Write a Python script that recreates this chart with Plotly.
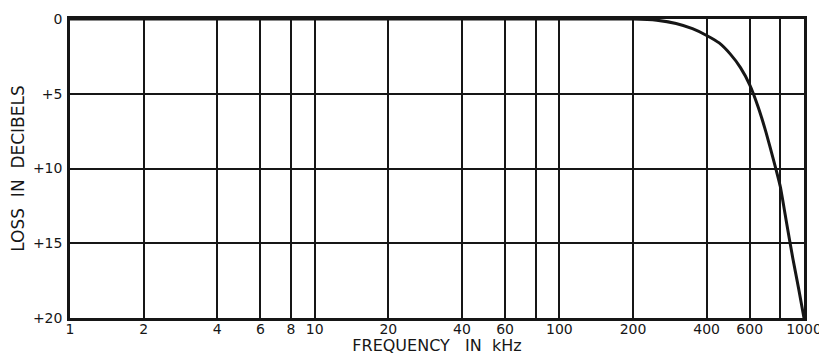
import plotly.graph_objects as go

freq_khz = [1, 10, 100, 200, 250, 300, 350, 400, 450, 500, 550, 600, 650, 700, 750, 800, 850, 900, 950, 1000]
loss_db = [0, 0, 0, 0, 0.08, 0.3, 0.65, 1.1, 1.6, 2.35, 3.25, 4.4, 5.9, 7.6, 9.4, 11.2, 13.7, 16.0, 18.0, 20]

grid_vals = [1, 2, 4, 6, 8, 10, 20, 40, 60, 80, 100, 200, 400, 600, 800, 1000]
grid_text = ['1', '2', '4', '6', '8', '10', '20', '40', '60', '', '100', '200', '400', '600', '', '1000']

y_vals = [0, 5, 10, 15, 20]
y_text = ['0', '+5', '+10', '+15', '+20']

ink = '#161616'
fam = 'DejaVu Sans, Liberation Sans, sans-serif'
tick_font = dict(family=fam, size=14, color=ink)
nb = '&nbsp;'

fig = go.Figure()
fig.add_trace(go.Scatter(x=freq_khz, y=loss_db, mode='lines',
                         line=dict(color=ink, width=3, shape='spline', smoothing=0.5),
                         hoverinfo='skip', showlegend=False))

fig.update_xaxes(type='log', range=[0, 3], tickvals=grid_vals, ticktext=grid_text,
                 showgrid=True, gridcolor=ink, gridwidth=1.8,
                 showline=True, linecolor=ink, linewidth=2.5, mirror=True,
                 ticks='', zeroline=False, tickfont=tick_font, automargin=False,
                 ticklabelstandoff=-4,
                 title=dict(text='FREQUENCY' + nb * 3 + 'IN' + nb * 2 + 'kHz',
                            font=dict(family=fam, size=16, color=ink), standoff=11))
fig.update_yaxes(range=[20, 0], tickvals=y_vals, ticktext=y_text,
                 showgrid=True, gridcolor=ink, gridwidth=1.8,
                 showline=True, linecolor=ink, linewidth=2.5, mirror=True,
                 ticks='', zeroline=False, tickfont=tick_font, automargin=False,
                 ticklabelstandoff=2,
                 title=dict(text='LOSS' + nb * 2 + 'IN' + nb * 2 + 'DECIBELS',
                            font=dict(family=fam, size=17, color=ink), standoff=4))

# page body has an 8px margin, so the figure is sized to fit beside it
fig.update_layout(width=819, height=347, margin=dict(l=62, r=23, t=11, b=37),
                  plot_bgcolor='white', paper_bgcolor='white')

fig.write_html("out.html")
